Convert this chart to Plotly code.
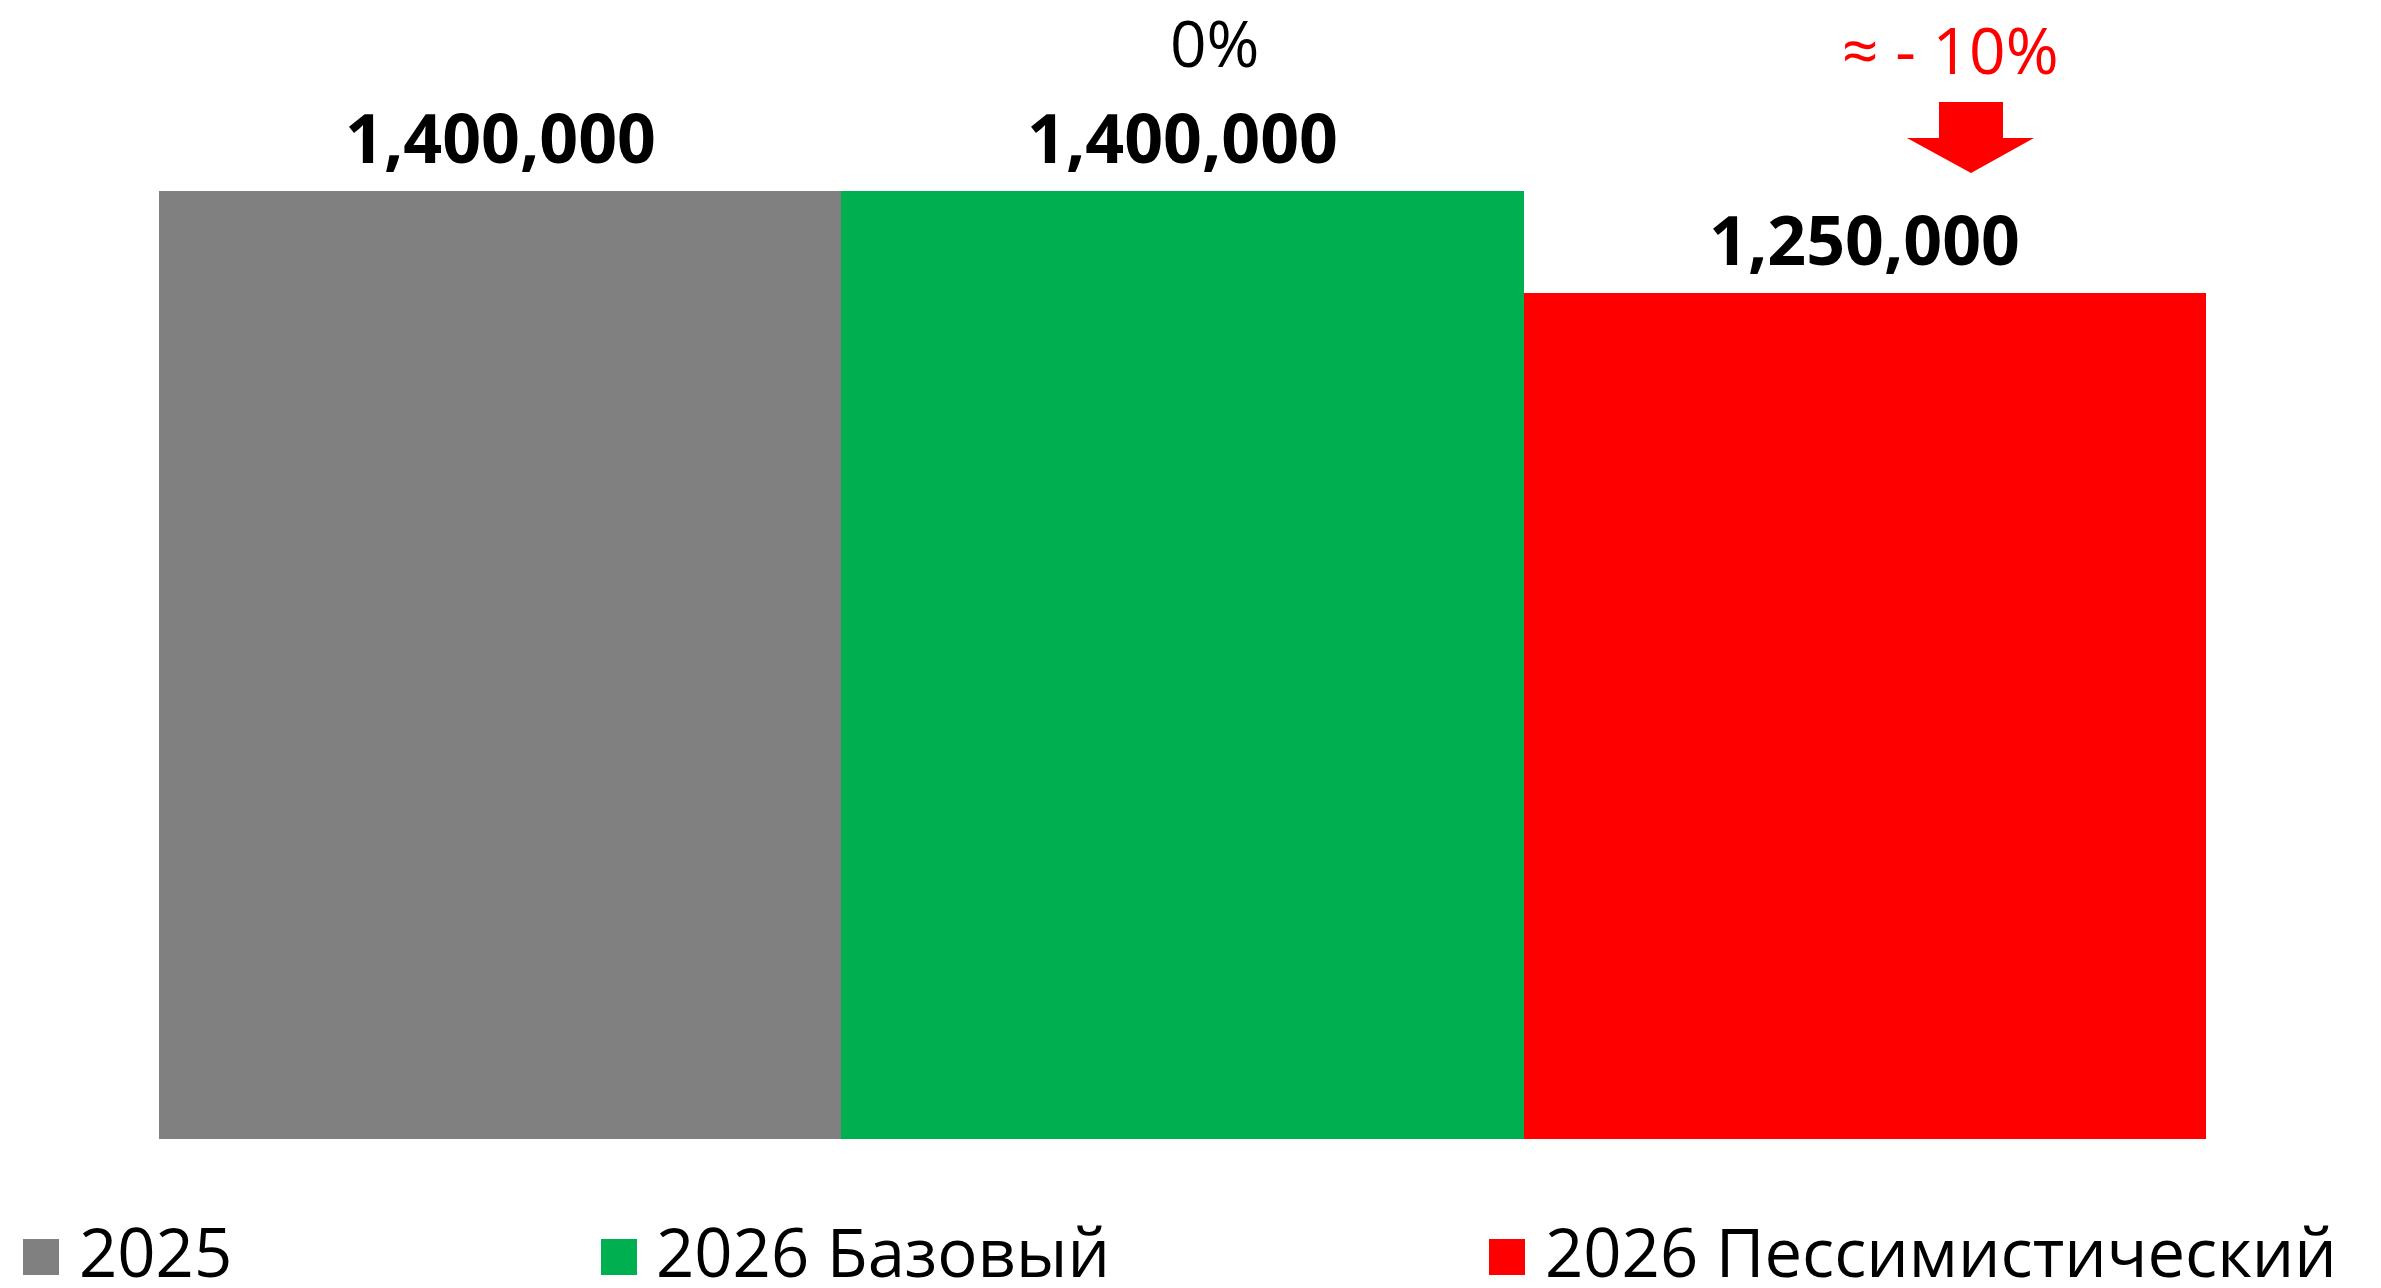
import plotly.graph_objects as go

# ---- data ----
categories = ["2025", "2026 Базовый", "2026 Пессимистический"]
values = [1400000, 1400000, 1250000]
value_labels = ["1,400,000", "1,400,000", "1,250,000"]
colors = ["#808080", "#00B050", "#FF0000"]
change_labels = ["0%", "≈ - 10%"]

# page body has an 8px margin; work in screen pixels and shift
OFF = 8
W, H = 2381 - 2 * OFF, 1288 - 2 * OFF
X0, X1, Y0, Y1 = 159, 2206, 40, 1139          # plot area in screen px
L, T = X0 - OFF, Y0 - OFF
R, B = W - (X1 - OFF), H - (Y1 - OFF)
PW, PH = X1 - X0, Y1 - Y0
Y_MAX = 1400000 * PH / (Y1 - 191)


def px(xp):
    return (xp - X0) / PW


def py(yp):
    return (Y1 - yp) / PH


fig = go.Figure()
for c, v, col in zip(categories, values, colors):
    fig.add_trace(go.Bar(x=[c], y=[v], marker=dict(color=col, line=dict(width=0)),
                         showlegend=False, hoverinfo="x+y"))

annotations = []
for i, (v, lab) in enumerate(zip(values, value_labels)):
    annotations.append(dict(x=i, y=v, xref="x", yref="y", text="<b>%s</b>" % lab,
                            showarrow=False, yanchor="bottom", xanchor="center", yshift=6,
                            font=dict(family="Open Sans", size=68, color="#000000")))

# change labels
annotations.append(dict(x=px(1215), y=py(42), xref="paper", yref="paper", text=change_labels[0],
                        showarrow=False, xanchor="center", yanchor="middle",
                        font=dict(family="Open Sans", size=64, color="#000000")))
annotations.append(dict(x=px(1950), y=py(50), xref="paper", yref="paper", text=change_labels[1],
                        showarrow=False, xanchor="center", yanchor="middle",
                        font=dict(family="Open Sans", size=64, color="#FF0000")))

# manual legend
shapes = []
legend_items = [(23, 77), (601, 654), (1489, 1543)]
for (sx, tx), c, col in zip(legend_items, categories, colors):
    shapes.append(dict(type="rect", xref="paper", yref="paper",
                       x0=px(sx), x1=px(sx + 36), y0=py(1275), y1=py(1239),
                       fillcolor=col, line=dict(width=0)))
    annotations.append(dict(x=px(tx), y=py(1251), xref="paper", yref="paper", text=c,
                            showarrow=False, xanchor="left", yanchor="middle",
                            font=dict(family="Open Sans", size=67, color="#000000")))

# down arrow
pts = [(1939, 102), (2003, 102), (2003, 138), (2034, 138), (1971, 173), (1907, 138), (1939, 138)]
path = "M " + " L ".join("%f,%f" % (px(a), py(b)) for a, b in pts) + " Z"
shapes.append(dict(type="path", xref="paper", yref="paper", path=path,
                   fillcolor="#FF0000", line=dict(width=0)))

fig.update_layout(
    width=W, height=H,
    margin=dict(l=L, r=R, t=T, b=B),
    paper_bgcolor="white", plot_bgcolor="white",
    bargap=0,
    xaxis=dict(visible=False, range=[-0.5, 2.5]),
    yaxis=dict(visible=False, range=[0, Y_MAX]),
    annotations=annotations,
    shapes=shapes,
    showlegend=False,
)

fig.write_html("out.html")
